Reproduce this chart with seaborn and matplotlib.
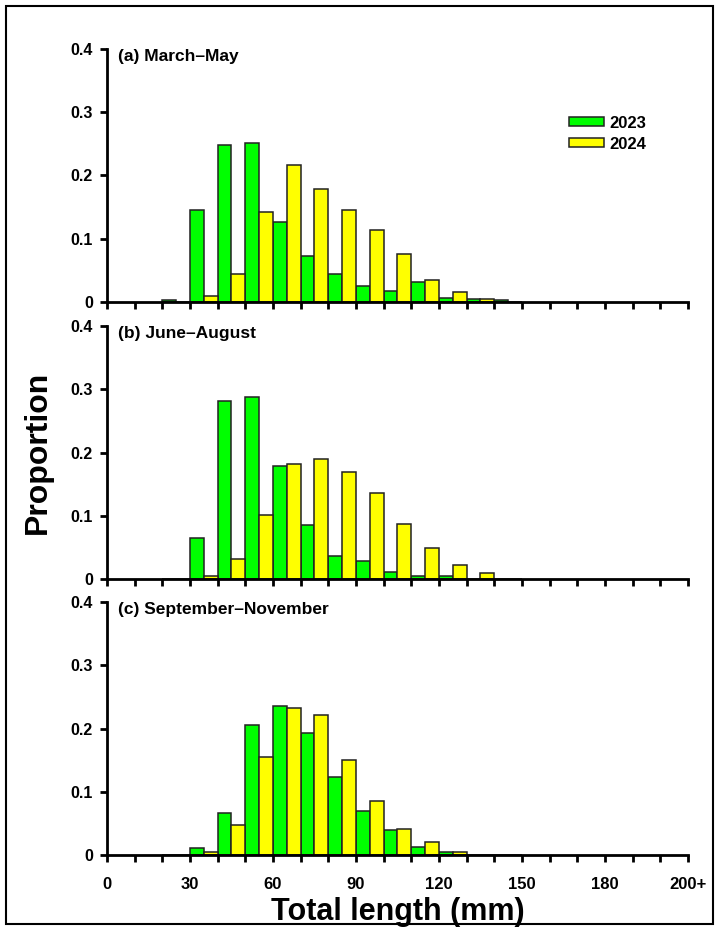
import pandas as pd
import matplotlib.pyplot as plt
from matplotlib.patches import Rectangle
import seaborn as sns

# length classes (lower bound of each 10 mm class)
bins = [20, 30, 40, 50, 60, 70, 80, 90, 100, 110, 120, 130, 140]
years = ['2023', '2024']

a_2023 = [0.003, 0.146, 0.249, 0.252, 0.127, 0.073, 0.045, 0.026, 0.017, 0.031, 0.006, 0.005, 0.003]
a_2024 = [0.0, 0.010, 0.044, 0.142, 0.217, 0.178, 0.146, 0.114, 0.076, 0.035, 0.016, 0.005, 0.0]
b_2023 = [0.0, 0.065, 0.281, 0.288, 0.178, 0.086, 0.036, 0.028, 0.011, 0.005, 0.005, 0.0, 0.0]
b_2024 = [0.0, 0.005, 0.032, 0.102, 0.182, 0.189, 0.170, 0.136, 0.087, 0.049, 0.022, 0.009, 0.0]
c_2023 = [0.0, 0.011, 0.066, 0.205, 0.235, 0.193, 0.124, 0.070, 0.039, 0.013, 0.005, 0.0, 0.0]
c_2024 = [0.0, 0.005, 0.048, 0.155, 0.232, 0.222, 0.150, 0.085, 0.041, 0.021, 0.005, 0.0, 0.0]

titles = ['(a) March\u2013May', '(b) June\u2013August', '(c) September\u2013November']
xticks = list(range(0, 211, 10))
xlabels = {0: '0', 30: '30', 60: '60', 90: '90', 120: '120', 150: '150', 180: '180', 210: '200+'}
yticks = [0, 0.1, 0.2, 0.3, 0.4]
ylabels = ['0', '0.1', '0.2', '0.3', '0.4']

sns.set_style('ticks')
plt.rcParams['font.family'] = ['Liberation Sans', 'DejaVu Sans']
plt.rcParams['font.weight'] = 'bold'
for k in ['text.color', 'axes.labelcolor', 'xtick.color', 'ytick.color', 'axes.edgecolor']:
    plt.rcParams[k] = 'black'

palette = {'2023': '#00ff00', '2024': '#ffff00'}

fig = plt.figure(figsize=(7.16, 9.3), dpi=100)
bottoms = [0.6753, 0.3774, 0.0806]
panels = [(a_2023, a_2024), (b_2023, b_2024), (c_2023, c_2024)]

for i, (g, y) in enumerate(panels):
    ax = fig.add_axes([0.1494, bottoms[i], 0.8115, 0.272])
    df = pd.DataFrame({
        'length': [b + 5 for b in bins] * 2,
        'year': ['2023'] * len(bins) + ['2024'] * len(bins),
        'prop': g + y,
    })
    sns.barplot(data=df, x='length', y='prop', hue='year', hue_order=years,
                palette=palette, native_scale=True, width=1, gap=0,
                edgecolor='#222222', linewidth=1.1, saturation=1,
                errorbar=None, legend=(i == 0), ax=ax)
    ax.set_xlim(0, 210)
    ax.set_ylim(0, 0.4)
    ax.set_xticks(xticks)
    if i == 2:
        ax.set_xticklabels([xlabels.get(t, '') for t in xticks], fontsize=12, fontweight='bold')
    else:
        ax.set_xticklabels([])
    ax.set_yticks(yticks)
    ax.set_yticklabels(ylabels, fontsize=11.5, fontweight='bold')
    ax.set_xlabel('')
    ax.set_ylabel('')
    sns.despine(ax=ax)
    for s in ['left', 'bottom']:
        ax.spines[s].set_linewidth(2)
    ax.tick_params(axis='both', length=5, width=2, color='black')
    ax.tick_params(axis='x', pad=11)
    ax.tick_params(axis='y', pad=5)
    ax.text(0.019, 0.97, titles[i], transform=ax.transAxes, fontsize=12.5,
            fontweight='bold', va='center', ha='left')
    if i == 0:
        h, l = ax.get_legend_handles_labels()
        ax.legend(h, l, loc='center left', bbox_to_anchor=(0.77, 0.665), frameon=False,
                  prop={'weight': 'bold', 'size': 12}, handlelength=2.1,
                  handleheight=0.45, labelspacing=0.35, handletextpad=0.3)
    ax.set_facecolor('white')

fig.text(0.053, 0.514, 'Proportion', rotation=90, fontsize=23, fontweight='bold',
         ha='center', va='center')
fig.text(0.555, 0.019, 'Total length (mm)', fontsize=22, fontweight='bold',
         ha='center', va='center')

fig.patches.append(Rectangle((0.008, 0.006), 0.988, 0.988, transform=fig.transFigure,
                             fill=False, edgecolor='black', linewidth=1.5))

fig.savefig('out.png', dpi=100)
